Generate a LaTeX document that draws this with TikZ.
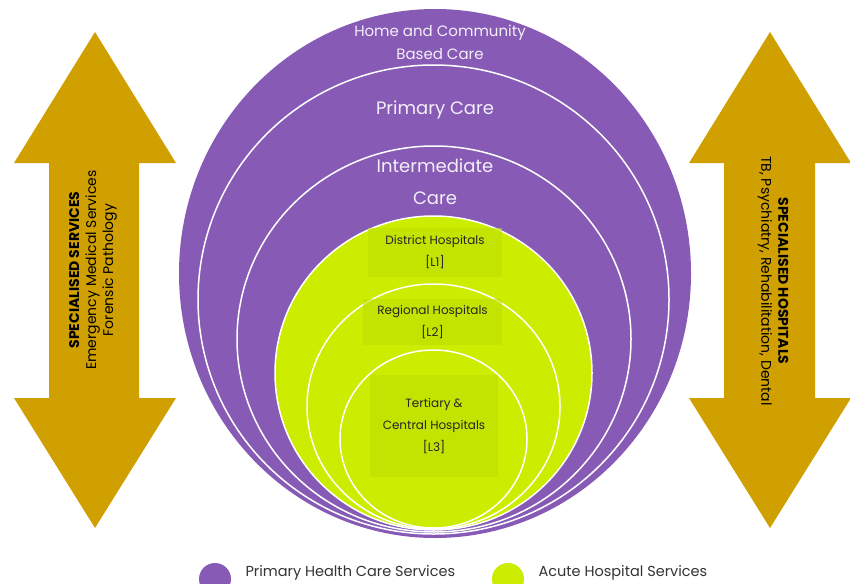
\documentclass[tikz,border=0pt]{standalone}
\usepackage{fontspec}
\setmainfont{Poppins}
\usetikzlibrary{positioning}
\definecolor{phc}{RGB}{135,91,181}
\definecolor{acute}{RGB}{204,236,0}
\definecolor{acutebox}{RGB}{190,224,0}
\definecolor{special}{RGB}{208,160,0}
\begin{document}
\begin{tikzpicture}[x=1pt,y=-1pt]
    \tikzstyle{ring}=[draw=white, line width=1.5pt]
    \tikzstyle{phclabel}=[text=white!90!phc, align=center]
    \tikzstyle{levelbox}=[rectangle, fill=acutebox, fill opacity=0.6, text opacity=1, text=black!85, align=center, font=\fontsize{12}{22}\selectfont]
    \tikzstyle{arrowlabel}=[align=center, font=\fontsize{14}{17}\selectfont]
    \tikzstyle{dot}=[circle, minimum size=32pt, inner sep=0pt]
    \tikzstyle{legend}=[text=black!80, font=\fontsize{14.5}{16}\selectfont]
    \useasboundingbox (0,0) rectangle (850,583);
    \clip (0,0) rectangle (850,583);

    \fill[special] (95,32) -- (176,163) -- (139,163) -- (139,398) -- (176,398) -- (95,528)
                   -- (14,398) -- (49,398) -- (49,163) -- (14,163) -- cycle;
    \fill[special] (770,32) -- (851,163) -- (815,163) -- (815,398) -- (851,398) -- (770,528)
                   -- (689,398) -- (724,398) -- (724,163) -- (689,163) -- cycle;

    \fill[phc] (435,273.5) ellipse [x radius=256, y radius=264.5];
    \filldraw[ring, fill=phc] (433.5,299.5) ellipse [x radius=235.5, y radius=234.5];
    \filldraw[ring, fill=phc] (434,339) ellipse [x radius=197, y radius=193];
    \filldraw[ring, fill=acute] (433.5,373) ellipse [x radius=158.5, y radius=157];
    \filldraw[ring, fill=acute] (433.5,406.5) ellipse [x radius=126.5, y radius=122.5];
    \filldraw[ring, fill=acute] (433.5,439) ellipse [x radius=93.5, y radius=89];

    \node[phclabel, font=\fontsize{15}{23}\selectfont] (home) at (440,42) {Home and Community\\Based Care};
    \node[phclabel, font=\fontsize{18}{20}\selectfont] (primary) at (435,110) {Primary Care};
    \node[phclabel, font=\fontsize{18}{32}\selectfont] (intermediate) at (435,182) {Intermediate\\Care};

    \node[levelbox, minimum width=134pt, minimum height=49pt] (district) at (435,252.5) {District Hospitals\\{[L1]}};
    \node[levelbox, minimum width=139pt, minimum height=46pt] (regional) at (432.5,322) {Regional Hospitals\\{[L2]}};
    \node[levelbox, minimum width=128pt, minimum height=102pt] (tertiary) at (434,426) {Tertiary \&\\Central Hospitals\\{[L3]}};

    \node[arrowlabel, rotate=90] (services) at (93,270) {\textbf{SPECIALISED SERVICES}\\Emergency Medical Services\\Forensic Pathology};
    \node[arrowlabel, rotate=-90] (hospitals) at (773,281) {\textbf{SPECIALISED HOSPITALS}\\TB, Psychiatry, Rehabilitation, Dental};

    \node[dot, fill=phc] (phcdot) at (215,579) {};
    \node[legend, anchor=west] (phctext) at (242,573) {Primary Health Care Services};
    \node[dot, fill=acute] (acutedot) at (508,579) {};
    \node[legend, anchor=west] (acutetext) at (535,573) {Acute Hospital Services};

\end{tikzpicture}
\end{document}
